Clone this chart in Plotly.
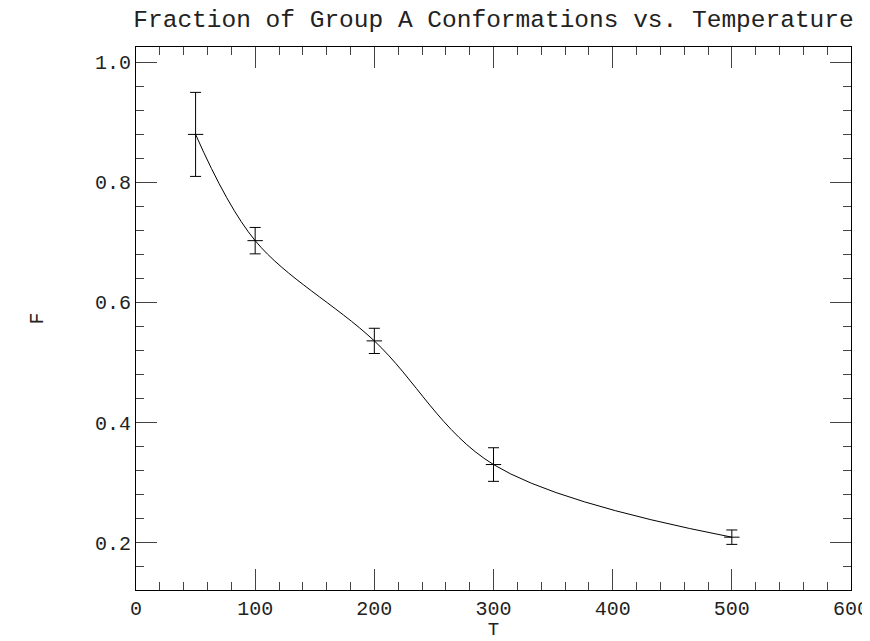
import plotly.graph_objects as go

# Data
temperature = [50, 100, 200, 300, 500]
fraction = [0.880, 0.703, 0.536, 0.330, 0.209]
fraction_err = [0.070, 0.022, 0.021, 0.028, 0.012]

x_tick_vals = [0, 100, 200, 300, 400, 500, 600]
y_tick_vals = [0.2, 0.4, 0.6, 0.8, 1.0]

FONT = "Liberation Mono"
W, H = 862, 633  # page has an 8px body margin

fig = go.Figure()
fig.add_trace(go.Scatter(
    x=temperature,
    y=fraction,
    mode="lines+markers",
    line=dict(color="black", width=1, shape="spline"),
    marker=dict(symbol="line-ew", size=11, color="black",
                line=dict(color="black", width=1)),
    error_y=dict(type="data", array=fraction_err, visible=True,
                 color="black", thickness=1, width=5.5),
    showlegend=False,
))

axis_common = dict(
    showgrid=False,
    zeroline=False,
    showline=True,
    linecolor="black",
    linewidth=1,
    mirror="allticks",
    ticks="inside",
    ticklen=21,
    tickwidth=1,
    tickcolor="#444",
    tickfont=dict(family=FONT, size=20, color="#222"),
    automargin=False,
)

fig.update_xaxes(
    range=[0, 600],
    tickvals=x_tick_vals,
    minor=dict(dtick=20, ticks="inside", ticklen=8, tickcolor="#444", tickwidth=1, showgrid=False),
    title=dict(text="T", font=dict(family=FONT, size=19, color="#222"), standoff=5),
    **axis_common,
)
fig.update_yaxes(
    range=[0.121, 1.0256],
    tickvals=y_tick_vals,
    tickformat=".1f",
    minor=dict(dtick=0.04, tick0=0.2, ticks="inside", ticklen=8, tickcolor="#444", tickwidth=1, showgrid=False),
    title=dict(text="F", font=dict(family=FONT, size=20, color="#222"), standoff=45),
    **axis_common,
)

fig.update_layout(
    width=W,
    height=H,
    margin=dict(l=128, r=19, t=39, b=50.5, autoexpand=False),
    paper_bgcolor="white",
    plot_bgcolor="white",
    title=dict(
        text="Fraction of Group A Conformations vs. Temperature",
        font=dict(family=FONT, size=24.5, color="#222"),
        x=0.5, xref="paper", xanchor="center",
        y=1 - 10 / H, yref="container", yanchor="middle",
        automargin=False,
    ),
)

fig.write_html("out.html")
